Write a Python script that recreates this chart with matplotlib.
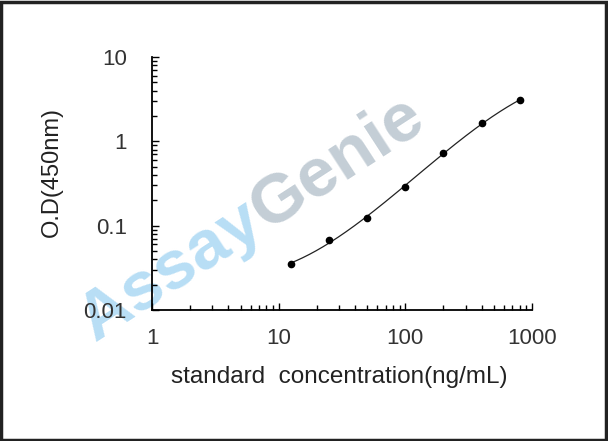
import numpy as np
import matplotlib
matplotlib.use("Agg")
import matplotlib.pyplot as plt
from matplotlib.patches import Rectangle
from matplotlib.ticker import LogLocator, NullFormatter, FixedLocator, FixedFormatter

conc = [12.5, 25, 50, 100, 200, 400, 800]
od = [0.035, 0.068, 0.123, 0.29, 0.73, 1.65, 3.05]
xticks = [1, 10, 100, 1000]
xtick_labels = ["1", "10", "100", "1000"]
yticks = [0.01, 0.1, 1, 10]
ytick_labels = ["0.01", "0.1", "1", "10"]

plt.rcParams['font.family'] = ['Liberation Sans', 'DejaVu Sans']

W, H = 608, 441
fig = plt.figure(figsize=(W/100, H/100), dpi=100)
ax = fig.add_axes([152/W, 1-310/H, 380/W, 253/H])

# watermark "AssayGenie" split into two colours at the junction on the baseline
ang = 33
jx, jy = 266/W, 1-231/H
fig.text(jx, jy, "Assay", fontsize=50, fontweight='bold', color='#b8def5',
         rotation=ang, rotation_mode='anchor', ha='right', va='baseline', zorder=-1)
fig.text(jx, jy, "Genie", fontsize=50, fontweight='bold', color='#c4ced6',
         rotation=ang, rotation_mode='anchor', ha='left', va='baseline', zorder=-1)

lx = np.log10(conc)
ly = np.log10(od)
xs = np.linspace(lx[0], lx[-1], 200)
coef = np.polyfit(lx, ly, 3)
ax.plot(10**xs, 10**np.polyval(coef, xs), color='#222222', lw=0.9, zorder=3)
ax.plot(conc, od, 'o', color='black', ms=4.5, zorder=4)

ax.set_xscale('log')
ax.set_yscale('log')
ax.set_xlim(1, 1000)
ax.set_ylim(0.01, 10)
ax.patch.set_alpha(0)

for s in ['top', 'right']:
    ax.spines[s].set_visible(False)
for s in ['left', 'bottom']:
    ax.spines[s].set_linewidth(1.3)
    ax.spines[s].set_color('black')

ax.xaxis.set_major_locator(FixedLocator(xticks))
ax.xaxis.set_major_formatter(FixedFormatter(xtick_labels))
ax.yaxis.set_major_locator(FixedLocator(yticks))
ax.yaxis.set_major_formatter(FixedFormatter(ytick_labels))
ax.xaxis.set_minor_locator(LogLocator(base=10, subs=np.arange(2, 10)))
ax.yaxis.set_minor_locator(LogLocator(base=10, subs=np.arange(2, 10)))
ax.xaxis.set_minor_formatter(NullFormatter())
ax.yaxis.set_minor_formatter(NullFormatter())
ax.tick_params(which='major', direction='in', length=5, width=1, labelsize=16,
               labelcolor='#333333')
ax.tick_params(which='minor', direction='in', length=3.5, width=1)
ax.tick_params(axis='x', pad=13)
ax.tick_params(axis='y', pad=18)

ax.set_xlabel("standard  concentration(ng/mL)", fontsize=17.5, color='#222222')
ax.set_ylabel("O.D(450nm)", fontsize=17, color='#222222')
ax.yaxis.set_label_coords(-(152-63)/380, (310-172)/253)
ax.xaxis.set_label_coords((339-152)/380, -(366-310)/253)

fig.patches.append(Rectangle((0.002, 0.003), 0.995, 0.993, transform=fig.transFigure,
                             fill=False, edgecolor='#222222', lw=2.5))

fig.savefig("out.png", dpi=100)
